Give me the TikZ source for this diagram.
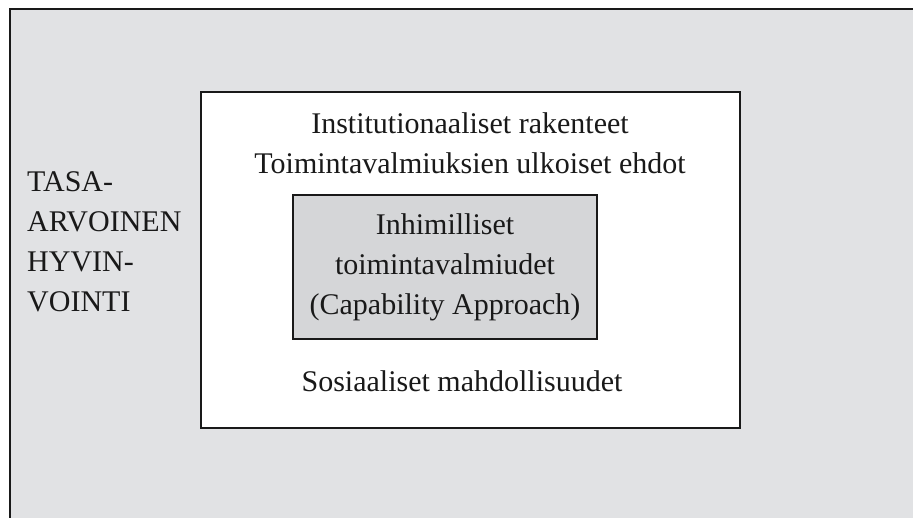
\documentclass[tikz,border=0pt]{standalone}
\usepackage{fontspec}
\setmainfont{Liberation Serif}
\usetikzlibrary{positioning}
\definecolor{taustaharmaa}{HTML}{E1E2E4}
\definecolor{laatikkoharmaa}{HTML}{D5D6D8}

\begin{document}
\begin{tikzpicture}[x=1pt,y=-1pt,
    kehys/.style={draw=black!90, line width=2.6pt, inner sep=0pt},
    teksti/.style={font=\fontsize{30}{40}\selectfont, inner sep=0pt, text=black!90}]
        \useasboundingbox (0,0) rectangle (913,518);
        \clip (0,0) rectangle (913,518);
        % tausta: vain vasen ja ylareuna nakyvat
        \draw[kehys, fill=taustaharmaa] (10,9) rectangle (940,540);
        \node[kehys, fill=white, minimum width=539pt, minimum height=336pt] (rakenteet) at (470.5,260) {};
        \node[kehys, fill=laatikkoharmaa, minimum width=304pt, minimum height=144pt] (valmiudet) at (445,267) {};
        \node[teksti, align=center] (ulkoiset) at (470,143) {Institutionaaliset rakenteet\\Toimintavalmiuksien ulkoiset ehdot};
        \node[teksti, align=center] (kyvyt) at (valmiudet.center) {Inhimilliset\\toimintavalmiudet\\(Capability Approach)};
        \node[teksti] (sosiaaliset) [below=30pt of valmiudet, xshift=17pt] {Sosiaaliset mahdollisuudet};
        \node[teksti, align=left, anchor=west] (hyvinvointi) at (27,242) {TASA-\\ARVOINEN\\HYVIN-\\VOINTI};
    \end{tikzpicture}
\end{document}
